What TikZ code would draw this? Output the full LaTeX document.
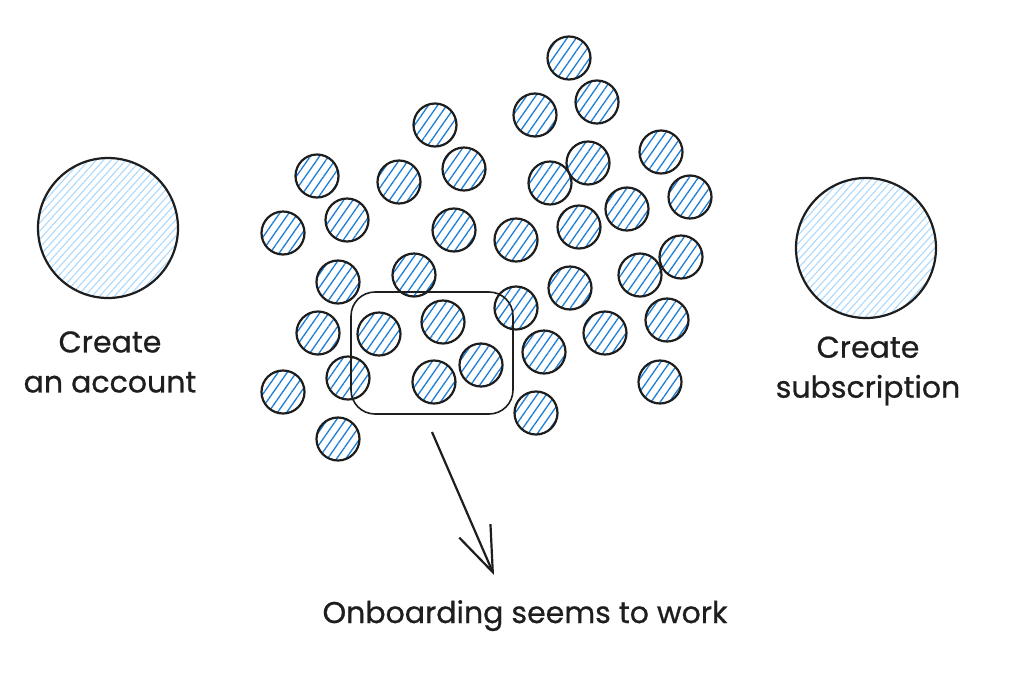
\documentclass[tikz,border=0pt]{standalone}
\usepackage{fontspec}
\setmainfont{Poppins}[UprightFeatures={FakeBold=0.7}]
\usetikzlibrary{patterns.meta,arrows.meta}
\definecolor{ink}{HTML}{1E1E1E}
\definecolor{hatchdark}{HTML}{1C7ED6}
\definecolor{hatchlight}{HTML}{A5D8FF}
\tikzset{
  dot/.style={circle, draw=ink, line width=2.2pt, minimum size=43pt, inner sep=0pt,
    preaction={fill=white},
    pattern={Lines[angle=55,distance=7.5pt,line width=1.3pt]}, pattern color=hatchdark},
  bigdot/.style={circle, draw=ink, line width=2.2pt, minimum size=140pt, inner sep=0pt,
    preaction={fill=white},
    pattern={Lines[angle=48,distance=5.5pt,line width=1pt]}, pattern color=hatchlight},
  lbl/.style={align=center, text=ink, font=\fontsize{30}{40}\selectfont, inner sep=0pt},
  grpbox/.style={draw=ink, line width=1.6pt, rounded corners=24pt, minimum width=162pt, minimum height=122pt},
  pointer/.style={draw=ink, line width=2.2pt, -{Straight Barb[length=45pt,width=34pt,line width=2.2pt]}},
}
\begin{document}
\begin{tikzpicture}[x=1pt,y=-1pt]
\useasboundingbox[fill=white] (0,0) rectangle (1012,678);
% big circles
\node[bigdot] (acct) at (108,228) {};
\node[bigdot] (subs) at (866,248) {};
% small circles
\foreach \px/\py [count=\i] in {569/58,597/102,535/115,435/125,661/152,588/163,317/176,399/182,
  464/169,550/183,690/197,627/209,347/220,283/233,454/230,516/240,579/227,681/257,640/275,
  338/282,414/275,570/288,516/308,318/333,379/334,443/322,605/333,667/320,544/352,481/365,
  348/378,434/382,283/392,660/382,536/413,338/439}
  \node[dot] (c\i) at (\px,\py) {};
% group box
\node[grpbox] (grp) at (432,353) {};
% labels
\node[lbl] (lacct) at (110,362) {Create\\an account};
\node[lbl] (lsubs) at (868,371) {Create\\subscription};
\node[lbl, anchor=base] (lres) at (525,623) {Onboarding seems to work};
% arrow
\coordinate (astart) at (432,432);
\coordinate (aend) at (494,575);
\draw[pointer] (astart) -- (aend);
\end{tikzpicture}
\end{document}
